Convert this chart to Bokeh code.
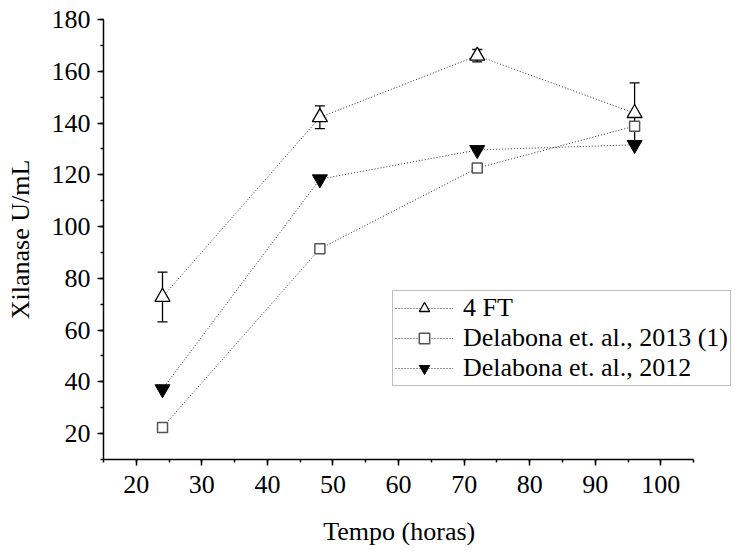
from bokeh.plotting import figure
from bokeh.models import Range1d, SingleIntervalTicker, ColumnDataSource, Whisker, TeeHead
from bokeh.embed import file_html
from bokeh.resources import INLINE

hours = [24, 48, 72, 96]
ft4 = [72.8, 142.2, 166.0, 143.8]
ft4_err = [9.6, 4.4, 2.4, 11.7]
delabona2013 = [22.4, 91.4, 122.6, 138.8]
delabona2012 = [37.2, 118.3, 129.6, 131.6]

labels = ["4 FT", "Delabona et. al., 2013 (1)", "Delabona et. al., 2012"]
x_title = "Tempo (horas)"
y_title = "Xilanase U/mL"

FONT = "Liberation Serif"

# frame spans to the right edge so the legend is not clipped; axis bounded at 105
p = figure(width=740, height=552, output_backend="svg", toolbar_location=None,
           x_range=Range1d(15, 112.15), y_range=Range1d(10, 180),
           min_border_left=103, min_border_right=0, min_border_top=19, min_border_bottom=93)
p.outline_line_color = None
p.xgrid.visible = False
p.ygrid.visible = False
p.background_fill_color = "white"
p.border_fill_color = "white"

p.xaxis.ticker = SingleIntervalTicker(interval=10, num_minor_ticks=2)
p.yaxis.ticker = SingleIntervalTicker(interval=20, num_minor_ticks=2)
p.xaxis.bounds = (15, 105)
for ax in (p.xaxis, p.yaxis):
    ax.axis_line_color = "black"
    ax.axis_line_width = 1.5
    ax.major_tick_line_color = "black"
    ax.minor_tick_line_color = "black"
    ax.major_tick_line_width = 1.5
    ax.minor_tick_line_width = 1.5
    ax.major_tick_out = 6
    ax.major_tick_in = 0
    ax.minor_tick_out = 3
    ax.minor_tick_in = 0
    ax.major_label_text_font = FONT
    ax.major_label_text_font_size = "26px"
    ax.major_label_text_color = "black"
    ax.axis_label_text_font = FONT
    ax.axis_label_text_font_size = "26px"
    ax.axis_label_text_font_style = "normal"
    ax.axis_label_text_color = "black"
p.yaxis.axis_label = y_title
# label is centred on the (wider) frame; trailing no-break spaces shift it under the bounded axis
p.xaxis.axis_label = x_title + "\u00a0" * 7
p.xaxis.major_label_standoff = 10
p.xaxis.axis_label_standoff = 21
p.yaxis.major_label_standoff = 7
p.yaxis.axis_label_standoff = 14

dash = "1 2"
lc = "#333333"

p.line(hours, ft4, line_dash=dash, line_color=lc, line_width=1, legend_label=labels[0])
p.line(hours, delabona2013, line_dash=dash, line_color=lc, line_width=1, legend_label=labels[1])
p.line(hours, delabona2012, line_dash=dash, line_color=lc, line_width=1, legend_label=labels[2])

p.scatter(hours, delabona2013, marker="square", size=10, fill_color="white",
          line_color="#555555", line_width=1.5, legend_label=labels[1])

src = ColumnDataSource(dict(x=hours,
                            upper=[v + e for v, e in zip(ft4, ft4_err)],
                            lower=[v - e for v, e in zip(ft4, ft4_err)]))
w = Whisker(source=src, base="x", upper="upper", lower="lower", dimension="height",
            line_color="black", line_width=1.3,
            upper_head=TeeHead(size=10, line_color="black", line_width=1.3),
            lower_head=TeeHead(size=10, line_color="black", line_width=1.3))
p.add_layout(w)

p.scatter(hours, ft4, marker="triangle", size=15, fill_color="white",
          line_color="black", line_width=1.3, legend_label=labels[0])
p.scatter(hours, delabona2012, marker="inverted_triangle", size=15, fill_color="black",
          line_color="black", line_width=1, legend_label=labels[2])

lg = p.legend[0]
lg.location = (289, 73)
lg.label_text_font = FONT
lg.label_text_font_size = "26px"
lg.label_text_color = "black"
lg.glyph_width = 58
lg.glyph_height = 26
lg.label_height = 20
lg.label_standoff = 10
lg.padding = 2
lg.spacing = -3
lg.margin = 0
lg.border_line_color = "#808080"
lg.border_line_width = 1.5
lg.background_fill_alpha = 1

open("out.html", "w").write(file_html(p, INLINE))
